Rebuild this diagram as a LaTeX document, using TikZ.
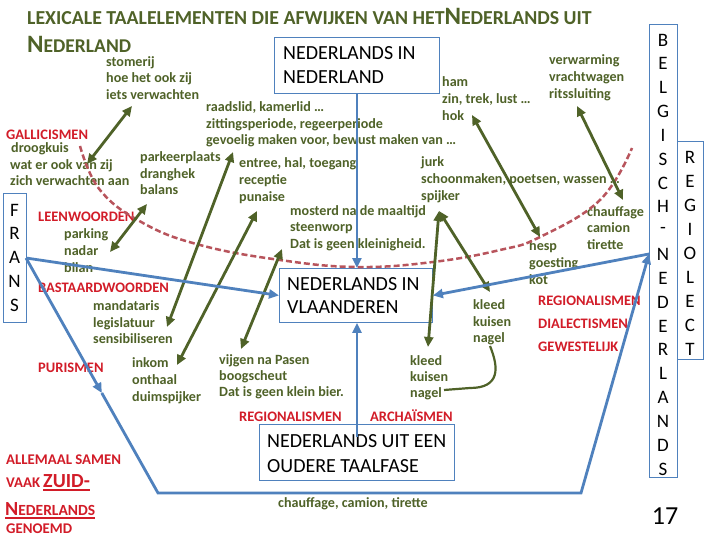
\documentclass[tikz,border=0pt]{standalone}
\usepackage{fontspec}
\setmainfont{Carlito}
\usetikzlibrary{arrows.meta}
\definecolor{tgreen}{RGB}{79,98,40}
\definecolor{tred}{RGB}{210,28,40}
\definecolor{tblue}{RGB}{79,129,189}
\definecolor{tdash}{RGB}{184,84,92}
\newcommand\gline[4]{\node[gtxt] (#1) at (#2,#3) {#4};}
\newcommand\rline[4]{\node[rtxt] (#1) at (#2,#3) {#4};}
\newcommand\bline[4]{\node[boxtxt] (#1) at (#2,#3) {#4};}
\begin{document}
\begin{tikzpicture}[x=1pt,y=-1pt,
  gtxt/.style={text=tgreen,font=\fontsize{14.1}{16}\selectfont\bfseries,anchor=base west,inner sep=0pt},
  rtxt/.style={text=tred,font=\fontsize{14.5}{16}\selectfont\bfseries,anchor=base west,inner sep=0pt},
  boxtxt/.style={font=\fontsize{20}{24}\selectfont,anchor=base west,inner sep=0pt},
  frame/.style={draw=tblue,line width=0.9pt,inner sep=0pt,anchor=north west},
  vlet/.style={font=\fontsize{19}{20}\selectfont,inner sep=0pt,anchor=center},
  garrow/.style={draw=tgreen,line width=2.8pt,{Triangle[length=10pt,width=9pt]}-{Triangle[length=10pt,width=9pt]}},
  barrow/.style={draw=tblue,line width=2.8pt,-{Triangle[length=10pt,width=9pt]}},
  bline/.style={draw=tblue,line width=2.8pt},
]
\useasboundingbox (0,0) rectangle (720,540);
\fill[white] (0,0) rectangle (720,540);

% title
\node[anchor=base west,inner sep=0pt,text=tgreen,font=\bfseries] (title1) at (27,25)
 {\fontsize{19.8}{20}\selectfont LEXICALE TAALELEMENTEN DIE AFWIJKEN VAN HET\fontsize{25}{20}\selectfont N\fontsize{19.8}{20}\selectfont EDERLANDS UIT};
\node[anchor=base west,inner sep=0pt,text=tgreen,font=\bfseries] (title2) at (27,53)
 {\fontsize{25}{20}\selectfont N\fontsize{19.5}{20}\selectfont EDERLAND};

% boxes
\node[frame,minimum width=165pt,minimum height=56pt] (NL) at (274,37) {};
\bline{nl1}{283}{60}{NEDERLANDS IN}
\bline{nl2}{283}{84}{NEDERLAND}
\node[frame,minimum width=153pt,minimum height=54pt] (VL) at (279,268) {};
\bline{vl1}{287}{290}{NEDERLANDS IN}
\bline{vl2}{287}{313}{VLAANDEREN}
\node[frame,minimum width=195pt,minimum height=56pt] (OT) at (259,424) {};
\bline{ot1}{267}{447}{NEDERLANDS UIT EEN}
\bline{ot2}{267}{472}{OUDERE TAALFASE}
\node[frame,minimum width=23pt,minimum height=129pt] (FR) at (3,193) {};
\foreach \l [count=\i from 0] in {F,R,A,N,S}
  \node[vlet] (fr\i) at (14.5,{210+23.75*\i}) {\l};
\node[frame,minimum width=28pt,minimum height=453pt] (BN) at (649,24) {};
\foreach \l [count=\i from 0] in {B,E,L,G,I,S,C,H,-,N,E,D,E,R,L,A,N,D,S}
  \node[vlet] (bn\i) at (663,{40+23.83*\i}) {\l};
\node[frame,minimum width=26pt,minimum height=218pt] (RG) at (677,141) {};
\foreach \l [count=\i from 0] in {R,E,G,I,O,L,E,C,T}
  \node[vlet] (rg\i) at (690,{157+24.1*\i}) {\l};
\node[font=\fontsize{26}{28}\selectfont,inner sep=0pt] (page) at (665,516) {17};

% red labels
\rline{gal}{6}{140}{GALLICISMEN}
\rline{leen}{38}{222}{LEENWOORDEN}
\rline{bast}{38}{292}{BASTAARDWOORDEN}
\rline{pur}{38}{372}{PURISMEN}
\rline{regb}{239}{421}{REGIONALISMEN}
\rline{arch}{370}{421}{ARCHAÏSMEN}
\rline{regr}{538}{305}{REGIONALISMEN}
\rline{dial}{538}{328}{DIALECTISMEN}
\rline{gew}{538}{351}{GEWESTELIJK}

% green text
\gline{s1}{106}{67}{stomerij}
\gline{s2}{106}{83}{hoe het ook zij}
\gline{s3}{106}{99.5}{iets verwachten}
\gline{d1}{11}{153}{droogkuis}
\gline{d2}{10}{169.5}{wat er ook van zij}
\gline{d3}{10}{186}{zich verwachten aan}
\gline{p1}{140}{162}{parkeerplaats}
\gline{p2}{140}{178.5}{dranghek}
\gline{p3}{140}{195}{balans}
\gline{r1}{206}{112}{raadslid, kamerlid …}
\gline{r2}{206}{128.5}{zittingsperiode, regeerperiode}
\gline{r3}{206}{145}{gevoelig maken voor, bewust maken van …}
\gline{e1}{239}{168}{entree, hal, toegang}
\gline{e2}{239}{185}{receptie}
\gline{e3}{239}{202}{punaise}
\gline{m1}{290}{215}{mosterd na de maaltijd}
\gline{m2}{290}{232}{steenworp}
\gline{m3}{290}{248.5}{Dat is geen kleinigheid.}
\gline{h1}{442}{87}{ham}
\gline{h2}{442}{104}{zin, trek, lust …}
\gline{h3}{442}{121}{hok}
\gline{v1}{549}{65}{verwarming}
\gline{v2}{549}{82}{vrachtwagen}
\gline{v3}{549}{98.5}{ritssluiting}
\gline{j1}{421}{167}{jurk}
\gline{j2}{421}{184}{schoonmaken, poetsen, wassen …}
\gline{j3}{421}{200.5}{spijker}
\gline{c1}{587}{217}{chauffage}
\gline{c2}{587}{233}{camion}
\gline{c3}{587}{249.5}{tirette}
\gline{hs1}{529}{250}{hesp}
\gline{hs2}{529}{267}{goesting}
\gline{hs3}{529}{284}{kot}
\gline{ku1}{473}{309}{kleed}
\gline{ku2}{473}{326}{kuisen}
\gline{ku3}{473}{342.5}{nagel}
\gline{kl1}{410}{365}{kleed}
\gline{kl2}{410}{381}{kuisen}
\gline{kl3}{410}{397}{nagel}
\gline{vj1}{219}{364}{vijgen na Pasen}
\gline{vj2}{219}{380}{boogscheut}
\gline{vj3}{219}{396.5}{Dat is geen klein bier.}
\gline{in1}{132}{367}{inkom}
\gline{in2}{132}{384.5}{onthaal}
\gline{in3}{132}{401.5}{duimspijker}
\gline{pk1}{64}{238}{parking}
\gline{pk2}{64}{255}{nadar}
\gline{pk3}{64}{272}{bilan}
\gline{md1}{93}{310}{mandataris}
\gline{md2}{93}{327}{legislatuur}
\gline{md3}{93}{343.5}{sensibiliseren}
\gline{cct}{278}{507}{chauffage, camion, tirette}

% bottom-left
\node[anchor=base west,inner sep=0pt,text=tred,font=\bfseries\fontsize{14.8}{16}\selectfont] (all1) at (6,464) {ALLEMAAL SAMEN};
\node[anchor=base west,inner sep=0pt,text=tred,font=\bfseries\fontsize{14.8}{16}\selectfont] (vaak) at (6,487) {VAAK};
\node[anchor=base west,inner sep=0pt,text=tred,font=\bfseries\fontsize{20}{22}\selectfont] (zuid) at (43,487) {ZUID-};
\node[anchor=base west,inner sep=0pt,text=tred,font=\bfseries] (zned) at (5,515) {\fontsize{20}{22}\selectfont N\fontsize{15.5}{16}\selectfont EDERLANDS};
\node[anchor=base west,inner sep=0pt,text=tred,font=\bfseries\fontsize{14.8}{16}\selectfont] (gen) at (6,533) {GENOEMD};
\draw[tred,line width=1.6pt] ([yshift=-3pt]zuid.base west) -- ([yshift=-3pt]zuid.base east);
\draw[tred,line width=1.6pt] ([yshift=-3pt]zned.base west) -- ([yshift=-3pt]zned.base east);

% red dashed arc
\draw[tdash,line width=2.5pt,dash pattern=on 6pt off 3pt] plot[smooth,tension=0.7] coordinates
 {(80,146) (100,190) (143,223) (200,245) (280,260) (357,267) (433,262) (500,250) (540,237) (600,200) (632,148)};

% coordinates for connectors
\coordinate (ga1) at (87,164);  \coordinate (ga2) at (132,106);
\coordinate (gb1) at (233,152); \coordinate (gb2) at (167,327);
\coordinate (gc1) at (147,204); \coordinate (gc2) at (110,252);
\coordinate (gd1) at (257,211); \coordinate (gd2) at (177,365);
\coordinate (ge1) at (282,249); \coordinate (ge2) at (241,349);
\coordinate (gf0) at (439,211); \coordinate (gf1) at (428,347); \coordinate (gf2) at (490,292);
\coordinate (gg1) at (472,115); \coordinate (gg2) at (540,237);
\coordinate (gh1) at (577,106); \coordinate (gh2) at (623,200);
\coordinate (nag1) at (490,346); \coordinate (nag2) at (444,390);

% green arrows
\draw[garrow] (ga1) -- (ga2);
\draw[garrow] (gb1) -- (gb2);
\draw[garrow] (gc1) -- (gc2);
\draw[garrow] (gd1) -- (gd2);
\draw[garrow] (ge1) -- (ge2);
\draw[garrow] (gf0) -- (gf1);
\draw[garrow] (gf0) -- (gf2);
\draw[garrow] (gg1) -- (gg2);
\draw[garrow] (gh1) -- (gh2);
\draw[tgreen,line width=2.2pt] (nag1) .. controls (499,368) and (500,388) .. (470,388) -- (nag2);

% blue connectors
\coordinate (frx) at (26,258);
\coordinate (bm1) at (101.8,393);
\coordinate (bc1) at (158,493);
\coordinate (bc2) at (581,493);
\coordinate (bm2) at (614.6,375);
\coordinate (bej) at (649,254);
\coordinate (otin) at (357,437);
\draw[barrow] (NL.south) -- (NL.south |- VL.north);
\draw[barrow] (frx) -- (VL.west);
\draw[barrow] (frx) -- (bm1);
\draw[bline,line join=miter] (bm1) -- (bc1) -- (bc2) -- (bm2);
\draw[barrow] (bm2) -- (bej);
\draw[barrow] (bej) -- (VL.east);
\draw[barrow] (otin) -- (otin |- VL.south);
\end{tikzpicture}
\end{document}
